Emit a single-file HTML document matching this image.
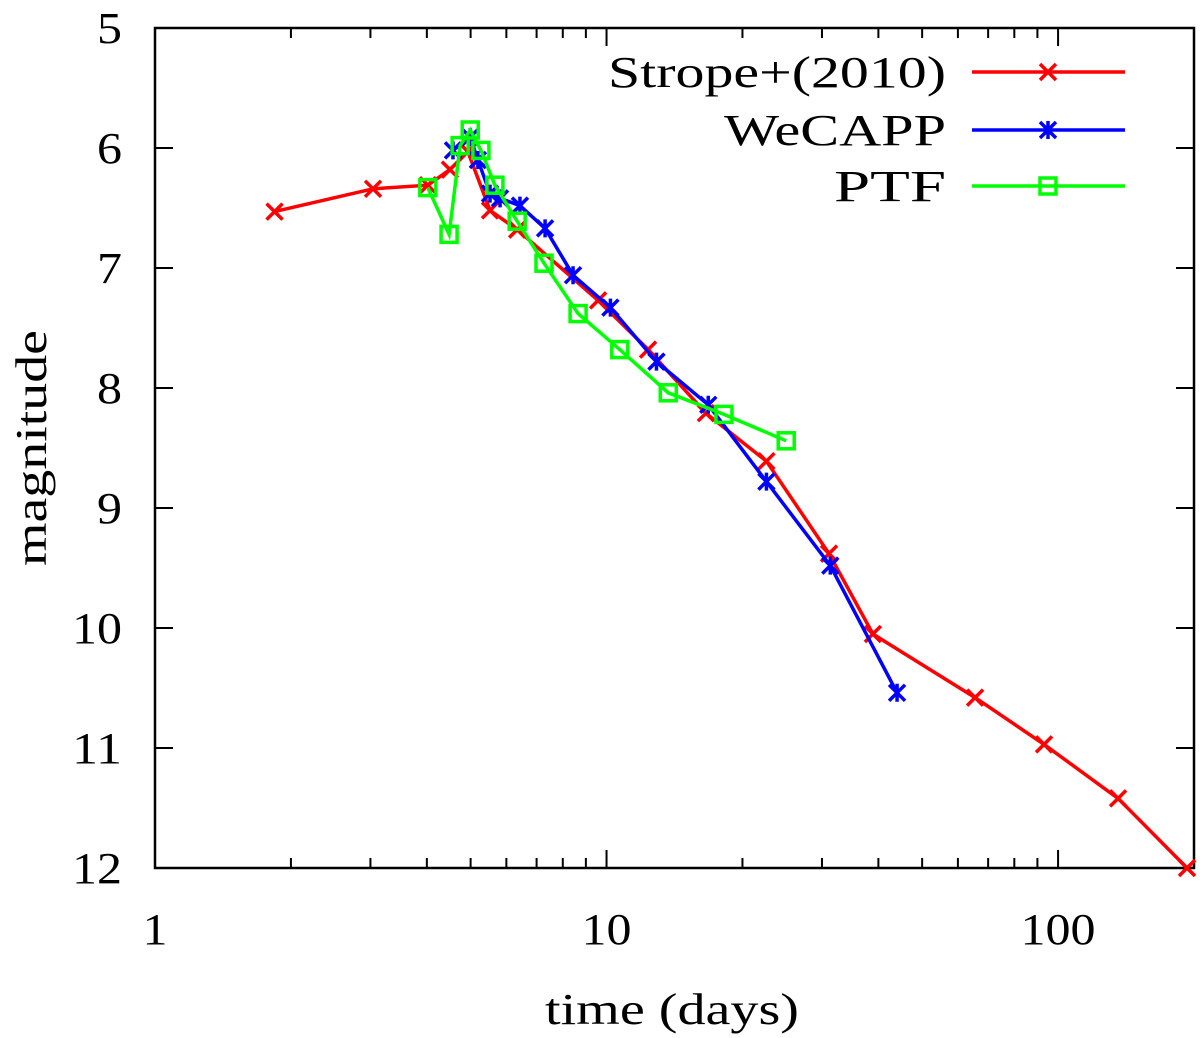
<!DOCTYPE html>
<html><head><meta charset="utf-8"><style>
html,body{margin:0;padding:0;background:#fff;}
svg{display:block;font-family:"Liberation Serif",serif;}
</style></head><body>
<svg id="chart" width="1200" height="1038" viewBox="0 0 1200 1038"></svg>
<script>
const stropeT=[1.84,3.04,4.02,4.50,4.93,5.52,6.34,9.58,12.36,16.6,22.6,31.1,38.9,65.5,93.1,135.8,193];
const stropeM=[6.53,6.34,6.31,6.18,6.03,6.52,6.68,7.27,7.68,8.21,8.61,9.38,10.05,10.58,10.97,11.42,12.0];
const wecappT=[4.57,4.99,5.19,5.52,5.81,6.43,7.31,8.43,10.2,12.9,16.8,22.6,31.3,44.0];
const wecappM=[6.02,5.91,6.10,6.38,6.42,6.48,6.67,7.06,7.33,7.78,8.14,8.78,9.48,10.54];
const ptfT=[4.02,4.48,4.74,4.99,5.27,5.66,6.34,7.27,8.65,10.7,13.7,18.2,25.0];
const ptfM=[6.33,6.72,5.98,5.85,6.02,6.31,6.61,6.96,7.38,7.68,8.04,8.22,8.44];
const yTicks=[5,6,7,8,9,10,11,12];
const xTicks=[1,10,100];
const seriesNames=["Strope+(2010)","WeCAPP","PTF"];

const L=155,R=1194,T=28,B=868,xmin=1,xmax=200,ymin=5,ymax=12;
const NS="http://www.w3.org/2000/svg";
const svg=document.getElementById('chart');
function X(t){return L+(Math.log10(t)-Math.log10(xmin))/(Math.log10(xmax)-Math.log10(xmin))*(R-L);}
function Y(m){return T+(m-ymin)/(ymax-ymin)*(B-T);}
function el(tag,attrs,parent){const e=document.createElementNS(NS,tag);for(const k in attrs)e.setAttribute(k,attrs[k]);(parent||svg).appendChild(e);return e;}

const tg=el('g',{stroke:'#000','stroke-width':2});


yTicks.forEach(v=>{const y=Y(v);el('line',{x1:L,x2:L+18,y1:y,y2:y},tg);el('line',{x1:R,x2:R-18,y1:y,y2:y},tg);
 const s=String(v);
 const t=el('text',{x:122,y:y+15,'text-anchor':'end','font-size':44,fill:'#000',textLength:s.length*25,lengthAdjust:'spacingAndGlyphs'});t.textContent=s;
 
 });
for(let d=1;d<=100;d*=10){for(let k=1;k<=9;k++){const v=d*k;if(v>xmax)continue;const x=X(v);const len=k===1?18:10;
 el('line',{x1:x,x2:x,y1:B,y2:B-len},tg);el('line',{x1:x,x2:x,y1:T,y2:T+len},tg);}}
xTicks.forEach(v=>{const s=String(v);const t=el('text',{x:X(v),y:944,'text-anchor':'middle','font-size':44,fill:'#000',textLength:s.length*25,lengthAdjust:'spacingAndGlyphs'});t.textContent=s;
 
 });
const frame=el('rect',{x:L,y:T,width:R-L,height:B-T,fill:'none',stroke:'#000','stroke-width':2.5});



const xt=el('text',{x:672,y:1024,'text-anchor':'middle','font-size':44,fill:'#000',textLength:254,lengthAdjust:'spacingAndGlyphs'});xt.textContent='time (days)';


const yt=el('text',{x:0,y:0,'text-anchor':'middle','font-size':44,fill:'#000',textLength:236,lengthAdjust:'spacingAndGlyphs',transform:'translate(46,448) rotate(-90)'});yt.textContent='magnitude';



function markX(g,x,y,c){el('path',{d:`M${x-8},${y-8}L${x+8},${y+8}M${x-8},${y+8}L${x+8},${y-8}`,stroke:c,'stroke-width':3.5,fill:'none'},g);}
function markStar(g,x,y,c){el('path',{d:`M${x-8},${y-8}L${x+8},${y+8}M${x-8},${y+8}L${x+8},${y-8}M${x},${y-9}L${x},${y+9}`,stroke:c,'stroke-width':3.5,fill:'none'},g);}
function markSq(g,x,y,c){el('rect',{x:x-8,y:y-8,width:16,height:16,stroke:c,'stroke-width':3.5,fill:'none'},g);}

const legendLens=[338,222,112];
function series(ts,ms,c,mk,name,ly,idx){
 const g=el('g',{});
 
 
 el('polyline',{points:ts.map((t,i)=>X(t)+','+Y(ms[i])).join(' '),fill:'none',stroke:c,'stroke-width':3.5},g);
 ts.forEach((t,i)=>mk(g,X(t),Y(ms[i]),c));
 const lg=el('g',{});
 
 
 const lt=el('text',{x:946,y:ly+15,'text-anchor':'end','font-size':44,fill:'#000',textLength:legendLens[idx],lengthAdjust:'spacingAndGlyphs'},lg);
 lt.textContent=seriesNames[idx];
 el('line',{x1:972,x2:1125,y1:ly,y2:ly,stroke:c,'stroke-width':3.5},lg);
 mk(lg,1048,ly,c);
}
series(stropeT,stropeM,'#ff0000',markX,'strope-series',72,0);
series(wecappT,wecappM,'#0000ff',markStar,'wecapp-series',130,1);
series(ptfT,ptfM,'#00ff00',markSq,'ptf-series',186,2);
</script>
</body></html>
